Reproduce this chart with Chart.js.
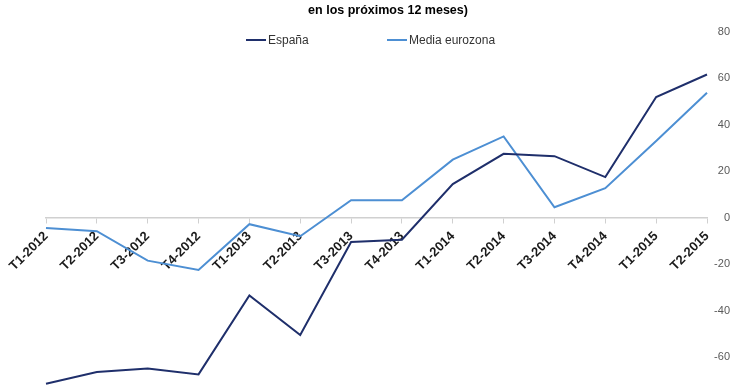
<!DOCTYPE html>
<html>
<head>
<meta charset="utf-8">
<script src="https://cdn.jsdelivr.net/npm/chart.js@4/dist/chart.umd.min.js"></script>
<style>
  html, body { margin: 0; padding: 0; background: #fff; overflow: hidden; }
  #wrap { position: relative; width: 740px; height: 414px; }
</style>
</head>
<body>
<div id="wrap"><canvas id="chart"></canvas></div>
<script>
const titleText = "en los próximos 12 meses)";
const quarters = [
  "T1-2012", "T2-2012", "T3-2012", "T4-2012",
  "T1-2013", "T2-2013", "T3-2013", "T4-2013",
  "T1-2014", "T2-2014", "T3-2014", "T4-2014",
  "T1-2015", "T2-2015",
];
const spainValues = [-71.5, -66.5, -65, -67.5, -33.5, -50.5, -10.5, -9.5, 14.5, 27.5, 26.5, 17.5, 52, 61.7];
const euroValues = [-4.4, -5.8, -18.5, -22.5, -2.8, -8, 7.5, 7.5, 25, 35, 4.5, 12.7, 33, 53.8];
const seriesNames = ["España", "Media eurozona"];
const seriesColors = ["#1f2f6b", "#4d8fd3"];

const FONT = "'Liberation Sans', Arial, sans-serif";

// legend sits inside the plot, like the original spreadsheet chart
const inlineLegend = {
  id: "inlineLegend",
  afterDraw(chart) {
    const ctx = chart.ctx;
    const spots = [246, 387];
    const y = 40;
    ctx.save();
    ctx.font = "12px " + FONT;
    ctx.textBaseline = "middle";
    ctx.textAlign = "left";
    chart.data.datasets.forEach((ds, i) => {
      const x = spots[i];
      ctx.strokeStyle = ds.borderColor;
      ctx.lineWidth = 2;
      ctx.beginPath();
      ctx.moveTo(x, y);
      ctx.lineTo(x + 20, y);
      ctx.stroke();
      ctx.fillStyle = "#333";
      ctx.fillText(ds.label, x + 22, y + 1);
    });
    ctx.restore();
  },
};

new Chart(document.getElementById("chart"), {
  type: "line",
  data: {
    labels: quarters,
    datasets: [
      {
        label: seriesNames[0],
        data: spainValues,
        borderColor: seriesColors[0],
        borderWidth: 2,
        pointRadius: 0,
        tension: 0,
      },
      {
        label: seriesNames[1],
        data: euroValues,
        borderColor: seriesColors[1],
        borderWidth: 2,
        pointRadius: 0,
        tension: 0,
      },
    ],
  },
  options: {
    responsive: true,
    maintainAspectRatio: false,
    animation: false,
    layout: { padding: { left: 46, right: 10, top: 0, bottom: 0 } },
    plugins: {
      legend: { display: false },
      tooltip: { enabled: false },
      title: {
        display: true,
        text: titleText,
        color: "#000",
        font: { family: FONT, size: 12.5, weight: "bold" },
        padding: { top: 3, bottom: 14 },
      },
    },
    scales: {
      x: {
        type: "category",
        position: { y: 0 },
        offset: false,
        grid: {
          display: true,
          drawOnChartArea: false,
          drawTicks: true,
          tickLength: 5,
          color: "#d0d0d0",
        },
        border: { display: true, color: "#d0d0d0", width: 1.5 },
        ticks: {
          autoSkip: false,
          maxRotation: 45,
          minRotation: 45,
          padding: 6,
          color: "#1a1a1a",
          font: { family: FONT, size: 13, weight: "bold" },
        },
        afterFit(scale) {
          scale.height = 0;
          scale.paddingLeft = 0;
          scale.paddingRight = 0;
        },
      },
      y: {
        position: "right",
        min: -80,
        max: 80,
        grid: { display: false },
        border: { display: false },
        ticks: {
          stepSize: 20,
          padding: 4,
          crossAlign: "far",
          color: "#595959",
          font: { family: FONT, size: 11 },
        },
        afterFit(scale) {
          scale.width = 23;
        },
      },
    },
  },
  plugins: [inlineLegend],
});
</script>
</body>
</html>
